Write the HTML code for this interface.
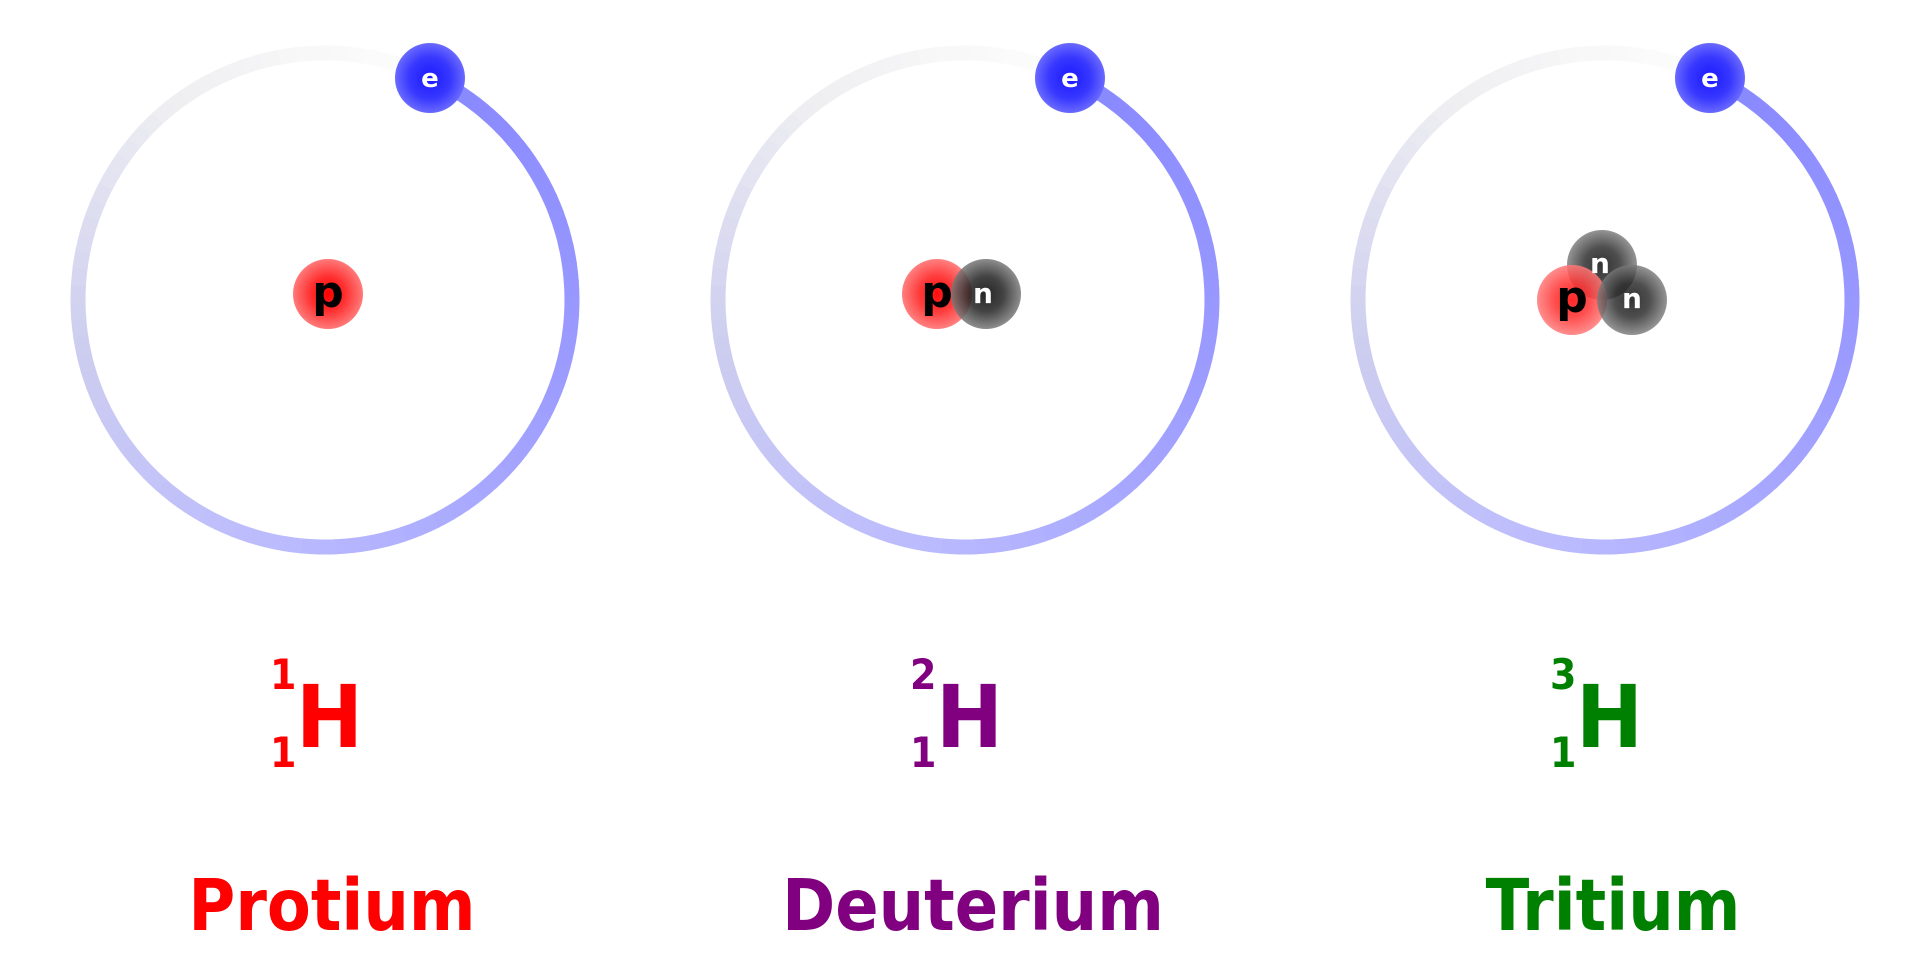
<!DOCTYPE html>
<html><head><meta charset="utf-8"><style>
html,body{margin:0;padding:0;background:#fff}
svg{display:block}
text{font-family:"DejaVu Sans","Liberation Sans",sans-serif;font-weight:bold}
</style></head><body>
<svg id="s" width="1920" height="960" viewBox="0 0 1920 960" xmlns="http://www.w3.org/2000/svg">
<defs>
<radialGradient id="ge"><stop offset="0" stop-color="#1a1aff"/><stop offset="0.6" stop-color="#3838ff"/><stop offset="1" stop-color="#6a6aff"/></radialGradient>
<radialGradient id="gp"><stop offset="0" stop-color="#ff0000"/><stop offset="0.5" stop-color="#ff3030"/><stop offset="1" stop-color="#ff7a7a"/></radialGradient>
<radialGradient id="gn"><stop offset="0" stop-color="#000"/><stop offset="0.5" stop-color="#222"/><stop offset="1" stop-color="#7a7a7a"/></radialGradient>
</defs>
<g id="orbits"></g>
<!-- Protium -->
<circle cx="430" cy="78" r="35" fill="url(#ge)"/>
<text x="430" y="87" font-size="26" fill="#fff" text-anchor="middle">e</text>
<circle cx="328" cy="294" r="35" fill="url(#gp)"/>
<text x="328" y="307" font-size="44" fill="#000" text-anchor="middle">p</text>
<!-- Deuterium -->
<circle cx="1070" cy="78" r="35" fill="url(#ge)"/>
<text x="1070" y="87" font-size="26" fill="#fff" text-anchor="middle">e</text>
<circle cx="937" cy="294" r="35" fill="url(#gp)" opacity="0.95"/>
<circle cx="986" cy="294" r="35" fill="url(#gn)" opacity="0.85"/>
<text x="937" y="307" font-size="44" fill="#000" text-anchor="middle">p</text>
<text x="983" y="303" font-size="28" fill="#fff" text-anchor="middle">n</text>
<!-- Tritium -->
<circle cx="1710" cy="78" r="35" fill="url(#ge)"/>
<text x="1710" y="87" font-size="26" fill="#fff" text-anchor="middle">e</text>
<circle cx="1602" cy="265" r="35" fill="url(#gn)" opacity="0.8"/>
<circle cx="1572" cy="300" r="35" fill="url(#gp)" opacity="0.85"/>
<circle cx="1632" cy="300" r="35" fill="url(#gn)" opacity="0.8"/>
<text x="1600" y="273" font-size="28" fill="#fff" text-anchor="middle">n</text>
<text x="1572" y="312" font-size="44" fill="#000" text-anchor="middle">p</text>
<text x="1632" y="308" font-size="28" fill="#fff" text-anchor="middle">n</text>
<!-- Labels -->
<g fill="#ff0000">
<text transform="translate(270,689) scale(1,1.1)" font-size="38">1</text>
<text transform="translate(270,767) scale(1,1.1)" font-size="38">1</text>
<text transform="translate(296,747) scale(1,1.08)" font-size="80">H</text>
<text transform="translate(332,930) scale(1,1.12)" font-size="64" text-anchor="middle">Protium</text>
</g>
<g fill="#800080">
<text transform="translate(910,689) scale(1,1.1)" font-size="38">2</text>
<text transform="translate(910,767) scale(1,1.1)" font-size="38">1</text>
<text transform="translate(936,747) scale(1,1.08)" font-size="80">H</text>
<text transform="translate(973,930) scale(1,1.12)" font-size="64" text-anchor="middle">Deuterium</text>
</g>
<g fill="#008000">
<text transform="translate(1550,689) scale(1,1.1)" font-size="38">3</text>
<text transform="translate(1550,767) scale(1,1.1)" font-size="38">1</text>
<text transform="translate(1576,747) scale(1,1.08)" font-size="80">H</text>
<text transform="translate(1613,930) scale(1,1.12)" font-size="64" text-anchor="middle">Tritium</text>
</g>
</svg>
<script>
(function(){
var g=document.getElementById('orbits');
var stops=[[0,[136,136,255]],[0.25,[158,158,255]],[0.45,[186,186,255]],[0.65,[205,205,240]],[0.82,[238,238,242]],[0.92,[248,248,248]],[1,[253,253,253]]];
function col(t){for(var i=1;i<stops.length;i++){if(t<=stops[i][0]){var a=stops[i-1],b=stops[i];var u=(t-a[0])/(b[0]-a[0]);return 'rgb('+[0,1,2].map(function(k){return Math.round(a[1][k]+(b[1][k]-a[1][k])*u)}).join(',')+')';}}return 'rgb(253,253,253)';}
var start=-64.7*Math.PI/180, R=247, N=90, html='';
[325,965,1605].forEach(function(cx){
 var cy=300;
 for(var i=0;i<N;i++){
  var a0=start+i/N*2*Math.PI, a1=start+(i+1.15)/N*2*Math.PI;
  var x0=cx+R*Math.cos(a0),y0=cy+R*Math.sin(a0),x1=cx+R*Math.cos(a1),y1=cy+R*Math.sin(a1);
  html+='<path d="M'+x0.toFixed(2)+' '+y0.toFixed(2)+' A'+R+' '+R+' 0 0 1 '+x1.toFixed(2)+' '+y1.toFixed(2)+'" stroke="'+col((i+0.5)/N)+'" stroke-width="15" fill="none"/>';
 }
});
g.innerHTML=html;
})();
</script>
</body></html>
